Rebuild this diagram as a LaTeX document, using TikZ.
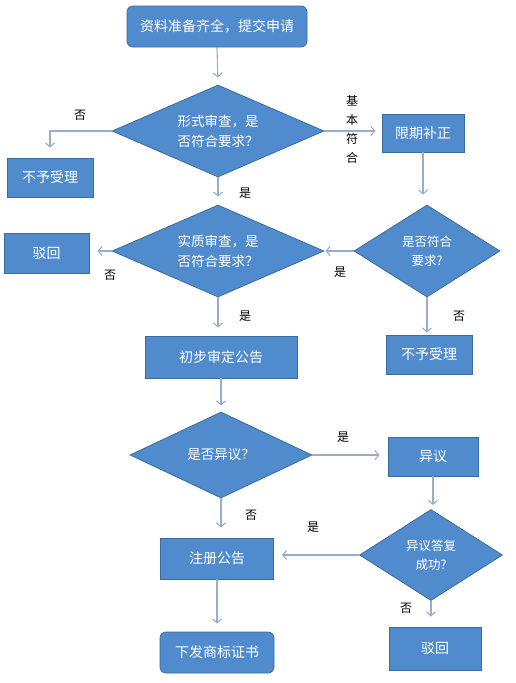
\documentclass[tikz,border=0pt]{standalone}
\usepackage{fontspec}
\setmainfont{Noto Sans CJK SC}
\usetikzlibrary{positioning,shapes.geometric,arrows.meta}
\definecolor{boxblue}{HTML}{508CCD}
\definecolor{boxedge}{HTML}{3B6C9E}
\definecolor{arrowgray}{HTML}{97AECB}

\begin{document}
\begin{tikzpicture}[x=1pt,y=-1pt,
  every node/.style={inner sep=0pt},
  box/.style={draw=boxedge,line width=0.8pt,fill=boxblue,text=white,font=\fontsize{14}{17}\selectfont,align=center},
  rbox/.style={box,rounded corners=6pt},
  test/.style={box,diamond,aspect=2.3,font=\fontsize{13.5}{20}\selectfont},
  lbl/.style={font=\fontsize{12}{14}\selectfont},
  arr/.style={draw=arrowgray,line width=1.1pt,-{Straight Barb[length=4pt,width=9pt]},shorten >=8pt}]
  \useasboundingbox (0,0) rectangle (516,683);
  \node[rbox,minimum width=180pt,minimum height=41pt] at (217,26.5) (start) {资料准备齐全，提交申请};
  \node[test,minimum width=212pt,minimum height=92pt] at (218,131) (d1) {形式审查，是\\否符合要求？};
  \node[box,minimum width=86pt,minimum height=39pt] at (50,177.5) (refuse1) {不予受理};
  \node[box,minimum width=82pt,minimum height=38pt] at (423,133) (fix) {限期补正};
  \node[test,minimum width=212pt,minimum height=92pt] at (218,251) (d2) {实质审查，是\\否符合要求？};
  \node[box,minimum width=85pt,minimum height=40pt] at (46.5,253) (reject1) {驳回};
  \node[test,aspect=1.6,minimum width=146pt,minimum height=92pt,font=\fontsize{12.5}{19}\selectfont] at (427,251) (d3) {是否符合\\要求?};
  \node[box,minimum width=86pt,minimum height=39pt] at (429,354.5) (refuse2) {不予受理};
  \node[box,minimum width=152pt,minimum height=42pt] at (221,357) (prelim) {初步审定公告};
  \node[test,aspect=2.1,minimum width=182pt,minimum height=86pt] at (221,455) (d4) {是否异议？};
  \node[box,minimum width=90pt,minimum height=39pt] at (433,456.5) (objection) {异议};
  \node[test,aspect=1.6,minimum width=143pt,minimum height=91pt,font=\fontsize{12.5}{19}\selectfont] at (431,555) (d5) {异议答复\\成功?};
  \node[box,minimum width=113pt,minimum height=41pt] at (217,558.5) (register) {注册公告};
  \node[rbox,minimum width=114pt,minimum height=41pt] at (217,652.5) (issue) {下发商标证书};
  \node[box,minimum width=92pt,minimum height=43pt] at (435,648.5) (reject2) {驳回};

  \node[lbl] at (80,115) (no1) {否};
  \node[lbl,align=center,font=\fontsize{12}{19}\selectfont] at (352,129) (basic) {基\\本\\符\\合};
  \node[lbl] at (245,193) (yes1) {是};
  \node[lbl] at (110,275) (no2) {否};
  \node[lbl] at (340,272) (yes2) {是};
  \node[lbl] at (245,316) (yes3) {是};
  \node[lbl] at (459,316) (no3) {否};
  \node[lbl] at (343,437) (yes4) {是};
  \node[lbl] at (251,515) (no4) {否};
  \node[lbl] at (313,527) (yes5) {是};
  \node[lbl] at (406,608) (no5) {否};

  \draw[arr,shorten >=7pt] (start.south) -- (d1.north);
  \draw[arr,shorten >=10pt] (d1.west) -| (refuse1.north);
  \draw[arr,shorten >=6pt] (d1.east) -- (d1.east -| fix.west);
  \draw[arr,shorten >=10pt] (fix.south) -- (fix.south |- d3.north);
  \draw[arr] (d1.south) -- (d2.north);
  \draw[arr] (d2.west) -- (d2.west -| reject1.east);
  \draw[arr,shorten >=1pt] (d3.west) -- (d2.east);
  \draw[arr,shorten >=2pt] (d3.south) -- (d3.south |- refuse2.north);
  \draw[arr] (d2.south) -- (d2.south |- prelim.north);
  \draw[arr,shorten >=6pt] (prelim.south) -- (d4.north);
  \draw[arr] (d4.east) -- (d4.east -| objection.west);
  \draw[arr,shorten >=4pt] (objection.south) -- (objection.south |- d5.north);
  \draw[arr] (d5.west) -- (d5.west -| register.east);
  \draw[arr,shorten >=10pt] (d4.south) -- (d4.south |- register.north);
  \draw[arr] (register.south) -- (issue.north);
  \draw[arr,shorten >=10pt] (d5.south) -- (d5.south |- reject2.north);
\end{tikzpicture}
\end{document}
